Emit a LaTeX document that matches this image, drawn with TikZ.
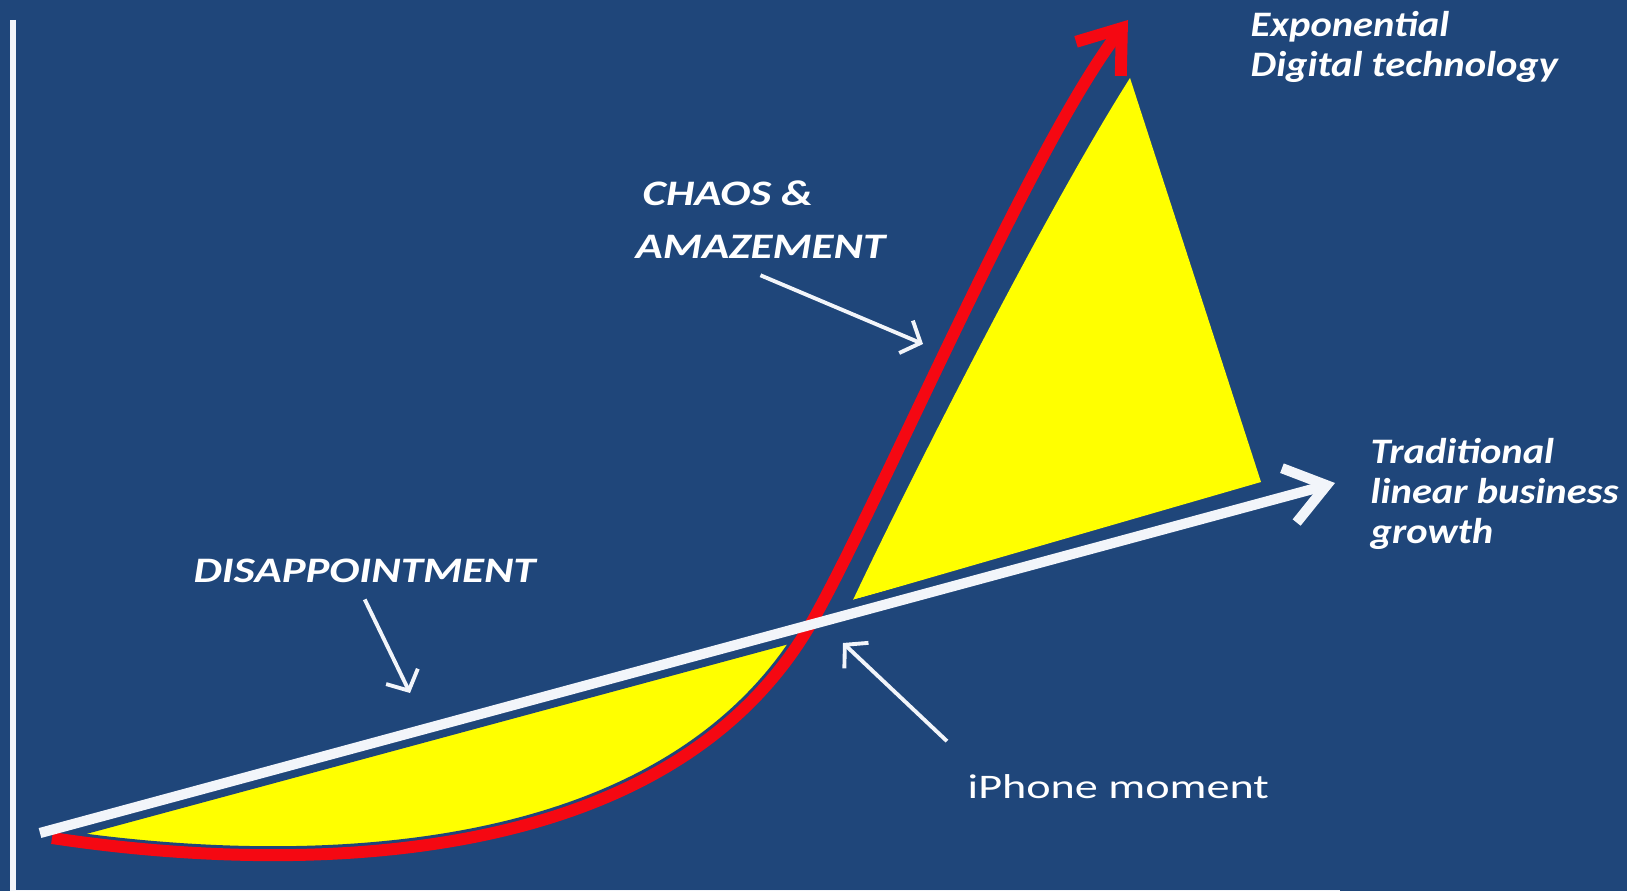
\documentclass[tikz,border=0pt]{standalone}
\usepackage{fontspec}
\setmainfont{Carlito}
\newfontfamily\lowlabel[FakeStretch=1.13]{Carlito}
\newfontfamily\caplabel[FakeStretch=1.25]{Carlito}
\newfontfamily\plainlabel[FakeStretch=1.34]{Carlito}
\usepackage{tikz}
\usetikzlibrary{arrows.meta}
\definecolor{bgblue}{RGB}{31,70,122}
\definecolor{lineW}{RGB}{242,245,250}
\definecolor{curveR}{RGB}{245,8,18}
\definecolor{fillY}{RGB}{255,255,0}
\tikzstyle{axis} = [lineW, line width=1.7pt]
\tikzstyle{whiteline} = [lineW, line width=2.9pt, -{Straight Barb[length=11pt,width=16pt]}]
\tikzstyle{redcurve} = [curveR, line width=3.4pt, -{Straight Barb[length=11pt,width=16pt]}]
\tikzstyle{pointer} = [lineW, line width=1.1pt, -{Straight Barb[length=4.5pt,width=10pt]}]
\tikzstyle{chartlabel} = [text=white, inner sep=0pt, align=left, font=\lowlabel\bfseries\itshape\fontsize{10.2}{11.4}\selectfont]
\tikzstyle{capslabel} = [chartlabel, font=\caplabel\bfseries\itshape\fontsize{10.2}{15}\selectfont]

\begin{document}
\begin{tikzpicture}[x=0.01cm, y=-0.01cm]
	\useasboundingbox (0,0) rectangle (1627,891);
	\fill[bgblue] (0,0) rectangle (1627,891);
	\draw[axis] (13,20) -- (13,893) -- (1340,893);
	% yellow areas
	\fill[fillY] (40,833) -- (813,624) -- (813,620) .. controls (660,890) and (250,868) .. (52,838) -- cycle;
	\fill[fillY] (853,600) .. controls (900,500) and (1040,220) .. (1130,78) -- (1261,482) -- cycle;
	% gaps round the lines
	\draw[bgblue, line width=5.1pt] (52,838) .. controls (250,868) and (660,890) .. (813,620) .. controls (881,500) and (1029,150) .. (1128,20);
	\draw[bgblue, line width=7.4pt] (40,833) -- (1335,483);
	% curves
	\draw[redcurve] (52,838) .. controls (250,868) and (660,890) .. (813,620) .. controls (881,500) and (1029,150) .. (1128,20);
	\draw[whiteline] (40,833) -- (1335,483);
	% labels
	\node[chartlabel, anchor=west] (expo) at (1250,47) {Exponential\\Digital technology};
	\node[chartlabel, anchor=west] (trad) at (1370,494) {Traditional\\linear business\\growth};
	\node[capslabel, anchor=west] (chaos) at (635,220) {\hspace{2pt}CHAOS \&\\AMAZEMENT};
	\node[capslabel, anchor=west] (disap) at (193,571) {DISAPPOINTMENT};
	\node[text=white, inner sep=0pt, font=\plainlabel\fontsize{9.8}{12}\selectfont, anchor=west] (iphone) at (967,787) {iPhone moment};
	% pointers
	\coordinate (chaostip) at (923,344);
	\coordinate (disaptip) at (410,693);
	\coordinate (iphtip) at (843,643);
	\draw[pointer] ([yshift=-4.5pt]chaos.south) -- (chaostip);
	\draw[pointer] ([yshift=-4.5pt]disap.south) -- (disaptip);
	\draw[pointer] ([xshift=-5.7pt,yshift=9.4pt]iphone.north west) -- (iphtip);
\end{tikzpicture}
\end{document}
